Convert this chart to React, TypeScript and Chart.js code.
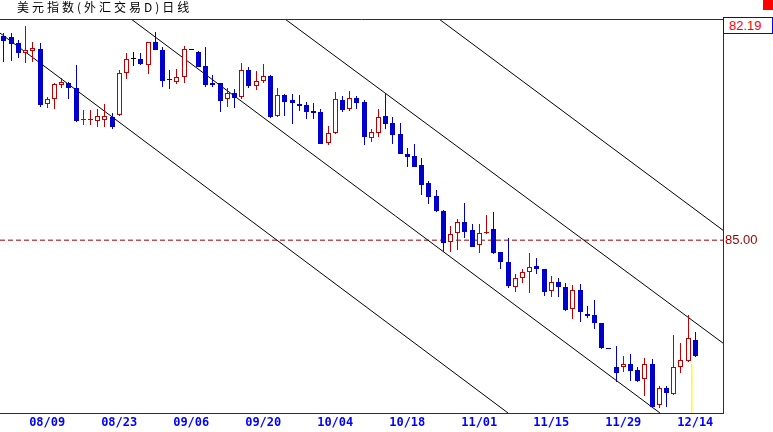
import { useEffect, useRef } from "react";
import { Chart, registerables } from "chart.js";

Chart.register(...registerables);

const titleText = "美元指数(外汇交易D)日线";

const dateLabels = ["08/09", "08/23", "09/06", "09/20", "10/04", "10/18", "11/01", "11/15", "11/29", "12/14"];
const dateTickIndex = [6, 16, 26, 36, 46, 56, 66, 76, 86, 96];

const opens = [
  89.94, 89.91, 89.77, 89.53, 89.58, 89.62, 88.29, 88.41, 88.75, 88.8,
  88.68, 87.9, 87.9, 87.88, 87.91, 87.98, 88.03, 89.04, 89.38, 89.38,
  89.24, 89.79, 89.6, 88.9, 88.83, 88.95, 89.6, 89.55, 89.21, 88.8,
  88.8, 88.41, 88.56, 88.46, 89.12, 88.73, 88.85, 88.97, 88.0, 88.51,
  88.39, 88.29, 88.27, 88.12, 88.1, 87.35, 87.59, 88.39, 88.17, 88.44,
  88.34, 87.47, 87.59, 88.0, 87.83, 87.57, 87.08, 87.03, 86.82, 86.38,
  86.07, 85.7, 84.95, 85.17, 85.44, 85.24, 84.88, 85.17, 85.27, 84.71,
  84.47, 83.86, 84.08, 84.23, 84.37, 84.3, 83.77, 83.99, 83.86, 83.33,
  83.79, 83.21, 83.19, 82.99, 82.4, 81.93, 81.93, 82.0, 81.86, 81.64,
  82.0, 81.01, 81.42, 81.27, 81.93, 82.07, 82.58,
];
const highs = [
  90.01, 90.01, 89.84, 90.18, 89.79, 89.77, 88.46, 88.8, 88.92, 88.83,
  89.24, 88.15, 88.15, 88.17, 88.29, 88.07, 89.12, 89.53, 89.55, 89.53,
  89.79, 90.04, 89.67, 89.12, 89.14, 89.7, 89.6, 89.58, 89.67, 88.99,
  88.8, 88.68, 88.66, 89.28, 89.19, 89.09, 89.26, 88.99, 88.68, 88.53,
  88.53, 88.51, 88.34, 88.32, 88.17, 87.76, 88.58, 88.49, 88.61, 88.49,
  88.39, 87.69, 88.17, 88.56, 87.98, 87.83, 87.23, 87.32, 86.99, 86.43,
  86.21, 85.73, 85.34, 85.51, 85.9, 85.39, 85.39, 85.61, 85.68, 84.71,
  85.05, 84.18, 84.3, 84.69, 84.57, 84.3, 84.13, 84.08, 83.96, 83.91,
  83.94, 83.4, 83.55, 82.99, 82.4, 82.44, 82.19, 82.24, 81.93, 82.15,
  82.12, 81.47, 81.47, 82.7, 82.51, 83.19, 82.78,
];
const lows = [
  89.31, 89.33, 89.41, 89.28, 89.31, 88.22, 88.2, 88.17, 88.68, 88.41,
  87.86, 87.78, 87.78, 87.74, 87.74, 87.69, 88.0, 88.9, 89.21, 89.24,
  89.02, 89.6, 88.7, 88.66, 88.78, 88.8, 89.6, 89.19, 88.7, 88.7,
  88.1, 88.22, 88.2, 88.41, 88.68, 88.63, 88.8, 87.95, 87.98, 88.0,
  87.81, 88.12, 87.93, 87.93, 87.32, 87.3, 87.57, 88.1, 88.12, 88.17,
  87.3, 87.37, 87.49, 87.69, 87.32, 87.08, 86.77, 86.77, 86.09, 85.87,
  85.68, 84.71, 84.71, 84.76, 85.05, 84.83, 84.69, 85.15, 84.66, 84.3,
  83.84, 83.74, 83.96, 83.72, 84.18, 83.65, 83.62, 83.62, 83.28, 83.09,
  83.02, 83.11, 82.85, 82.36, 82.38, 81.57, 81.81, 81.59, 81.57, 81.23,
  80.96, 80.94, 80.96, 81.25, 81.78, 82.05, 82.17,
];
const closes = [
  89.82, 89.74, 89.53, 89.6, 89.65, 88.27, 88.41, 88.78, 88.83, 88.68,
  87.88, 87.91, 87.91, 88.0, 88.0, 87.74, 89.04, 89.38, 89.38, 89.26,
  89.79, 89.6, 88.85, 88.87, 88.95, 89.62, 89.6, 89.19, 88.75, 88.75,
  88.37, 88.56, 88.44, 89.12, 88.73, 88.85, 88.97, 87.98, 88.51, 88.34,
  88.32, 88.24, 88.1, 88.07, 87.32, 87.59, 88.41, 88.15, 88.44, 88.32,
  87.49, 87.62, 87.98, 87.81, 87.54, 87.08, 87.01, 86.77, 86.33, 86.04,
  85.7, 84.93, 85.15, 85.44, 85.2, 84.83, 85.17, 85.2, 84.69, 84.47,
  83.89, 84.08, 84.23, 84.35, 84.3, 83.74, 83.99, 83.86, 83.31, 83.79,
  83.26, 83.16, 82.99, 82.39, 82.38, 81.78, 82.0, 81.83, 81.59, 82.0,
  80.96, 81.42, 81.3, 81.93, 82.1, 82.63, 82.19,
];

// trend channel lines (start / end points in data space: candle index, price)
const channelStartX = [-0.555, 17.64, 39.02, 60.41];
const channelStartY = [90.01, 90.35, 90.35, 90.35];
const channelEndX = [70.0, 91.1, 99.85, 99.85];
const channelEndY = [80.82, 80.82, 82.51, 85.24];

const referenceLevel = 85;
const cursorIndex = 95.5;
const cursorTop = 82.0;

const xMin = -0.555;
const xMax = 99.85;
const yMin = 80.82;
const yMax = 90.35;

const RED = "#C00000";
const BLUE = "#0000CC";
const BLACK = "#000000";
const FRAME = "#990000";

const topFramePlugin = {
  id: "topFrame",
  afterDraw(chart: any) {
    const { ctx, chartArea } = chart;
    ctx.save();
    ctx.strokeStyle = FRAME;
    ctx.lineWidth = 1;
    ctx.beginPath();
    ctx.moveTo(chartArea.left, Math.round(chartArea.top) + 0.5);
    ctx.lineTo(chartArea.right, Math.round(chartArea.top) + 0.5);
    ctx.stroke();
    ctx.restore();
  },
};

// snap the bar elements computed by the scales onto whole pixels so candles stay crisp
const pixelSnapPlugin = {
  id: "pixelSnap",
  beforeDatasetsDraw(chart: any) {
    chart.data.datasets.forEach((ds: any, di: number) => {
      if (ds.type !== "bar") return;
      const meta = chart.getDatasetMeta(di);
      meta.data.forEach((el: any) => {
        el.x = Math.floor(el.x) + 0.5;
        const top = Math.round(Math.min(el.y, el.base));
        let bottom = Math.round(Math.max(el.y, el.base));
        if (ds.label === "body" && bottom - top < 1) bottom = top + 1;
        el.y = top;
        el.base = bottom;
      });
    });
  },
};

export default function App() {
  const ref = useRef<HTMLCanvasElement>(null);

  useEffect(() => {
    const canvas = ref.current;
    if (!canvas) return;
    const idx = opens.map((_, i) => i);
    const col = idx.map((i) => (closes[i] > opens[i] ? RED : closes[i] < opens[i] ? BLUE : BLACK));
    const bodyFill = idx.map((i) => (closes[i] > opens[i] ? "#FFFFFF" : col[i]));

    const channelSets = channelStartX.map((sx, k) => ({
      type: "line" as const,
      label: "channel" + k,
      data: [
        { x: sx, y: channelStartY[k] },
        { x: channelEndX[k], y: channelEndY[k] },
      ],
      borderColor: "#000000",
      borderWidth: 1,
      pointRadius: 0,
      fill: false,
      tension: 0,
      order: 2,
    }));

    const chart = new Chart(canvas, {
      type: "bar",
      data: {
        datasets: [
          {
            type: "bar",
            label: "body",
            data: idx.map((i) => ({ x: i, y: [opens[i], closes[i]] })),
            backgroundColor: bodyFill,
            borderColor: col,
            borderWidth: 1,
            borderSkipped: false,
            barThickness: 5,
            minBarLength: 1,
            grouped: false,
            inflateAmount: 0,
            order: 0,
          } as any,
          {
            type: "bar",
            label: "wick",
            data: idx.map((i) => ({ x: i, y: [lows[i], highs[i]] })),
            backgroundColor: col,
            borderWidth: 0,
            barThickness: 1,
            grouped: false,
            inflateAmount: 0,
            order: 1,
          } as any,
          ...channelSets,
          {
            type: "line",
            label: "level",
            data: [
              { x: xMin, y: referenceLevel },
              { x: xMax, y: referenceLevel },
            ],
            borderColor: FRAME,
            borderWidth: 1,
            borderDash: [5, 3],
            pointRadius: 0,
            order: 3,
          },
          {
            type: "line",
            label: "cursor",
            data: [
              { x: cursorIndex, y: cursorTop },
              { x: cursorIndex, y: yMin },
            ],
            borderColor: "#FFFF00",
            borderWidth: 1,
            pointRadius: 0,
            order: 3,
          },
        ],
      },
      options: {
        responsive: false,
        animation: false,
        events: [],
        layout: { padding: { top: 19, left: 0, right: 0, bottom: 0 } },
        plugins: {
          legend: { display: false },
          tooltip: { enabled: false },
          title: { display: false },
        },
        scales: {
          x: {
            type: "linear",
            min: xMin,
            max: xMax,
            offset: false,
            grid: { display: false, offset: false, drawTicks: false },
            border: { display: true, color: FRAME, width: 1 },
            afterBuildTicks: (s: any) => {
              s.ticks = dateTickIndex.map((v) => ({ value: v }));
            },
            afterFit: (s: any) => {
              s.height = 19;
            },
            ticks: {
              autoSkip: false,
              maxRotation: 0,
              minRotation: 0,
              padding: 3,
              color: "#0000FF",
              font: { family: "'DejaVu Sans Mono', monospace", size: 12, weight: "bold" },
              callback: (v: any) => {
                const k = dateTickIndex.indexOf(Number(v));
                return k >= 0 ? dateLabels[k] : "";
              },
            },
          },
          y: {
            type: "linear",
            position: "right",
            min: yMin,
            max: yMax,
            grid: { display: false, drawTicks: false },
            border: { display: true, color: FRAME, width: 1 },
            afterBuildTicks: (s: any) => {
              s.ticks = [{ value: referenceLevel }];
            },
            afterFit: (s: any) => {
              s.width = 50;
            },
            ticks: {
              padding: 2,
              color: FRAME,
              font: { family: "'Liberation Sans Narrow', 'Liberation Sans', sans-serif", size: 13 },
              callback: (v: any) => Number(v).toFixed(2),
            },
          },
        },
      } as any,
      plugins: [pixelSnapPlugin, topFramePlugin],
    });
    return () => chart.destroy();
  }, []);

  const lastPrice = closes[closes.length - 1].toFixed(2);

  return (
    <div style={{ position: "absolute", left: 0, top: 0, width: 773, height: 432, background: "#FFFFFF", overflow: "hidden" }}>
      <canvas ref={ref} width={773} height={432} style={{ position: "absolute", left: 0, top: 0 }} />
      <div
        style={{
          position: "absolute",
          left: 17,
          top: 0,
          fontFamily: "'Noto Sans CJK SC', sans-serif",
          fontSize: 12,
          lineHeight: "14px",
          letterSpacing: "3px",
          color: "#000000",
          whiteSpace: "nowrap",
        }}
      >
        {titleText}
      </div>
      <div style={{ position: "absolute", left: 763, top: 0, width: 10, height: 10, background: "#FF0000" }} />
      <div
        style={{
          position: "absolute",
          left: 723,
          top: 17,
          width: 50,
          height: 17,
          boxSizing: "border-box",
          border: "1px solid #0000FF",
          background: "#FFFFFF",
          color: "#FF0000",
          fontFamily: "'Liberation Sans Narrow', 'Liberation Sans', sans-serif",
          fontSize: 13,
          lineHeight: "15px",
          paddingLeft: 5,
        }}
      >
        {lastPrice}
      </div>
    </div>
  );
}
